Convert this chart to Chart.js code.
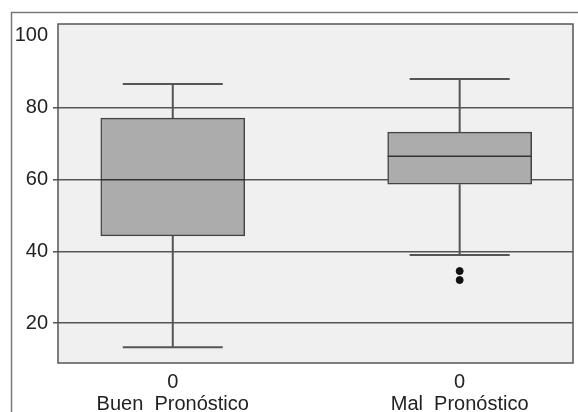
<!DOCTYPE html>
<html>
<head>
<meta charset="utf-8">
<script src="https://cdn.jsdelivr.net/npm/chart.js@4.4.1/dist/chart.umd.min.js"></script>
<style>
  html, body { margin: 0; padding: 0; background: #fff; }
  #wrap { width: 578px; height: 412px; position: relative; }
</style>
</head>
<body>
<div id="wrap"><canvas id="c"></canvas></div>
<script>
// valores
const categories = ['Buen  Pronóstico', 'Mal  Pronóstico'];
const groupCode = ['0', '0'];
const whiskerLow = [13.3, 39.0];
const q1 = [44.3, 58.7];
const median = [59.9, 66.5];
const q3 = [77.1, 73.2];
const whiskerHigh = [86.6, 88.0];
const outliers = [[], [34.5, 32.0]];
const yTicks = [20, 40, 60, 80, 100];

// fondo gris del área, marco exterior y bigotes
const boxPlugin = {
  id: 'boxExtras',
  beforeDraw(chart) {
    const { ctx, chartArea: a } = chart;
    ctx.save();
    ctx.strokeStyle = '#777';
    ctx.lineWidth = 1.5;
    ctx.strokeRect(11.5, 12.5, 700, 600);
    ctx.fillStyle = '#f0f0f0';
    ctx.fillRect(a.left, a.top, a.right - a.left, a.bottom - a.top);
    ctx.restore();
  },
  afterDatasetsDraw(chart) {
    const { ctx, chartArea: a } = chart;
    const xs = chart.scales.x, ys = chart.scales.y;
    const capHalf = 50, boxHalf = 72;
    ctx.save();
    categories.forEach((c, i) => {
      const px = xs.getPixelForValue(i);
      const yLo = ys.getPixelForValue(whiskerLow[i]);
      const yQ1 = ys.getPixelForValue(q1[i]);
      const yMed = ys.getPixelForValue(median[i]);
      const yQ3 = ys.getPixelForValue(q3[i]);
      const yHi = ys.getPixelForValue(whiskerHigh[i]);
      ctx.strokeStyle = '#555';
      ctx.lineWidth = 2;
      ctx.beginPath();
      ctx.moveTo(px, yQ3); ctx.lineTo(px, yHi);
      ctx.moveTo(px - capHalf, yHi); ctx.lineTo(px + capHalf, yHi);
      ctx.moveTo(px, yQ1); ctx.lineTo(px, yLo);
      ctx.moveTo(px - capHalf, yLo); ctx.lineTo(px + capHalf, yLo);
      ctx.stroke();
      ctx.strokeStyle = '#333';
      ctx.lineWidth = 1.5;
      ctx.beginPath();
      ctx.moveTo(px - boxHalf, yMed); ctx.lineTo(px + boxHalf, yMed);
      ctx.stroke();
    });
    // marco del área de trazado
    ctx.strokeStyle = '#555';
    ctx.lineWidth = 1.5;
    ctx.strokeRect(a.left, a.top, a.right - a.left, a.bottom - a.top);
    ctx.restore();
  }
};

const outlierPoints = [];
outliers.forEach((arr, i) => arr.forEach(v => outlierPoints.push({ x: i, y: v })));

new Chart(document.getElementById('c'), {
  data: {
    datasets: [
      {
        type: 'bar',
        data: categories.map((c, i) => ({ x: i, y: [q1[i], q3[i]] })),
        backgroundColor: '#acacac',
        borderColor: '#444',
        borderWidth: 1.5,
        borderSkipped: false,
        barThickness: 144
      },
      {
        type: 'scatter',
        data: outlierPoints,
        pointRadius: 3.5,
        pointBackgroundColor: '#111',
        pointBorderColor: '#111'
      }
    ]
  },
  options: {
    responsive: true,
    maintainAspectRatio: false,
    animation: false,
    layout: { padding: { top: 24, right: 1, left: 0, bottom: 0 } },
    plugins: { legend: { display: false }, tooltip: { enabled: false } },
    scales: {
      x: {
        type: 'linear',
        offset: false,
        min: -0.4,
        max: 1.395,
        afterBuildTicks: s => { s.ticks = categories.map((c, i) => ({ value: i })); },
        afterFit: s => { s.height = 49; },
        grid: { display: false, offset: false },
        border: { display: false },
        ticks: {
          padding: 0,
          color: '#222',
          font: { family: 'Liberation Sans, Arial', size: 20, lineHeight: 1.1 },
          callback: v => [groupCode[v], categories[v]]
        }
      },
      y: {
        min: 8.9,
        max: 103.3,
        afterBuildTicks: s => { s.ticks = yTicks.map(v => ({ value: v })); },
        afterFit: s => { s.width = 58; },
        border: { display: false },
        grid: {
          color: ctx => (ctx.tick && ctx.tick.value === 100) ? 'rgba(0,0,0,0)' : '#555',
          lineWidth: 1.5,
          tickLength: 5
        },
        ticks: {
          padding: 5,
          color: '#222',
          font: { family: 'Liberation Sans, Arial', size: 20 }
        }
      }
    }
  },
  plugins: [boxPlugin]
});
</script>
</body>
</html>
